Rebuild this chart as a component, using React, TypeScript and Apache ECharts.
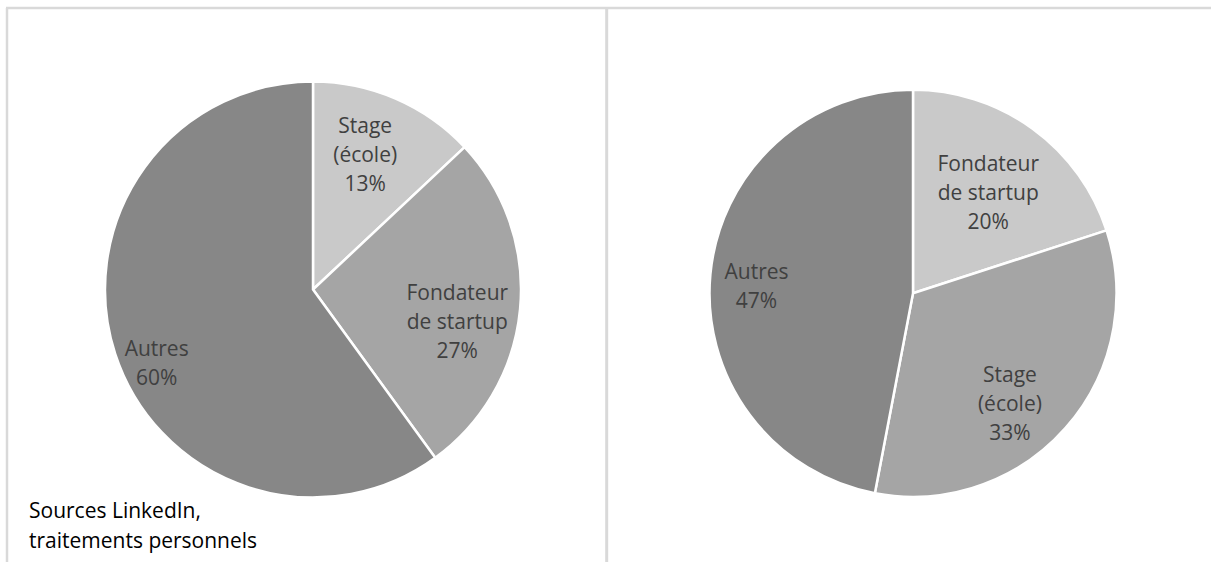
import React, { useEffect, useRef } from "react";
import * as echarts from "echarts";

// ---- Data ----
const CATEGORIES_LEFT = ["Stage (école)", "Fondateur de startup", "Autres"];
const VALUES_LEFT = [13, 27, 60];
const CATEGORIES_RIGHT = ["Fondateur de startup", "Stage (école)", "Autres"];
const VALUES_RIGHT = [20, 33, 47];
const SOURCE_LINES = ["Sources LinkedIn,", "traitements personnels"];

// ---- Styles ----
const SLICE_COLORS = ["#c9c9c9", "#a5a5a5", "#878787"];
const LABEL_LINES: Record<string, string> = {
  "Stage (école)": "Stage\n(école)",
  "Fondateur de startup": "Fondateur\nde startup",
  Autres: "Autres",
};
// label placement: radial factor of radius, angular shift from slice mid-angle (deg)
const LEFT_LABEL_FACTOR = [0.7, 0.71, 0.83];
const LEFT_LABEL_SHIFT = [-2.4, 6.9, -7.1];
const RIGHT_LABEL_FACTOR = [0.62, 0.72, 0.77];
const RIGHT_LABEL_SHIFT = [0.6, 7.2, -2.5];

const LEFT_CENTER: [number, number] = [313, 289.5];
const LEFT_R = 208;
const RIGHT_CENTER: [number, number] = [913, 293.3];
const RIGHT_R = 203.5;

const FONT = "'Open Sans', 'Noto Sans', sans-serif";

function makePie(
  cats: string[],
  vals: number[],
  center: [number, number],
  r: number,
  factor: number[],
  shift: number[]
) {
  const total = vals.reduce((a, b) => a + b, 0);
  return {
    type: "pie",
    center,
    radius: r,
    startAngle: 90,
    clockwise: true,
    avoidLabelOverlap: false,
    data: cats.map((c, i) => ({
      name: c,
      value: vals[i],
      itemStyle: { color: SLICE_COLORS[i] },
    })),
    itemStyle: { borderColor: "#ffffff", borderWidth: 2.5 },
    label: {
      show: true,
      position: "inside",
      formatter: (p: any) => `${LABEL_LINES[p.name] ?? p.name}\n${p.percent}%`,
      color: "#404040",
      fontFamily: FONT,
      fontSize: 21,
      lineHeight: 29,
      align: "center",
    },
    labelLine: { show: false },
    emphasis: { disabled: true },
    labelLayout: (p: any) => {
      const i = p.dataIndex;
      let cum = 0;
      for (let j = 0; j < i; j++) cum += vals[j];
      const mid = ((cum + vals[i] / 2) / total) * 360 + shift[i];
      const rad = (mid * Math.PI) / 180;
      const d = factor[i] * r;
      return {
        x: center[0] + d * Math.sin(rad),
        y: center[1] - d * Math.cos(rad),
        align: "center",
        verticalAlign: "middle",
      };
    },
  };
}

export default function App() {
  const ref = useRef<HTMLDivElement>(null);
  useEffect(() => {
    if (!ref.current) return;
    const chart = echarts.init(ref.current, undefined, { renderer: "svg" });
    const borderStyle = { stroke: "#d9d9d9", lineWidth: 2.5 };
    chart.setOption({
      animation: false,
      backgroundColor: "#ffffff",
      series: [
        makePie(CATEGORIES_LEFT, VALUES_LEFT, LEFT_CENTER, LEFT_R, LEFT_LABEL_FACTOR, LEFT_LABEL_SHIFT),
        makePie(CATEGORIES_RIGHT, VALUES_RIGHT, RIGHT_CENTER, RIGHT_R, RIGHT_LABEL_FACTOR, RIGHT_LABEL_SHIFT),
      ],
      graphic: [
        { type: "line", shape: { x1: 6, y1: 8, x2: 1211, y2: 8 }, style: borderStyle, silent: true },
        { type: "line", shape: { x1: 7, y1: 8, x2: 7, y2: 562 }, style: borderStyle, silent: true },
        { type: "line", shape: { x1: 606.7, y1: 8, x2: 606.7, y2: 562 }, style: { stroke: "#d9d9d9", lineWidth: 3 }, silent: true },
        {
          type: "text",
          left: 29,
          top: 495,
          silent: true,
          style: {
            text: SOURCE_LINES.join("\n"),
            fill: "#000000",
            font: `21px ${FONT}`,
            lineHeight: 30,
          },
        },
      ],
    });
    return () => chart.dispose();
  }, []);
  return (
    <div
      ref={ref}
      style={{ position: "absolute", left: 0, top: 0, width: 1211, height: 562 }}
    />
  );
}
